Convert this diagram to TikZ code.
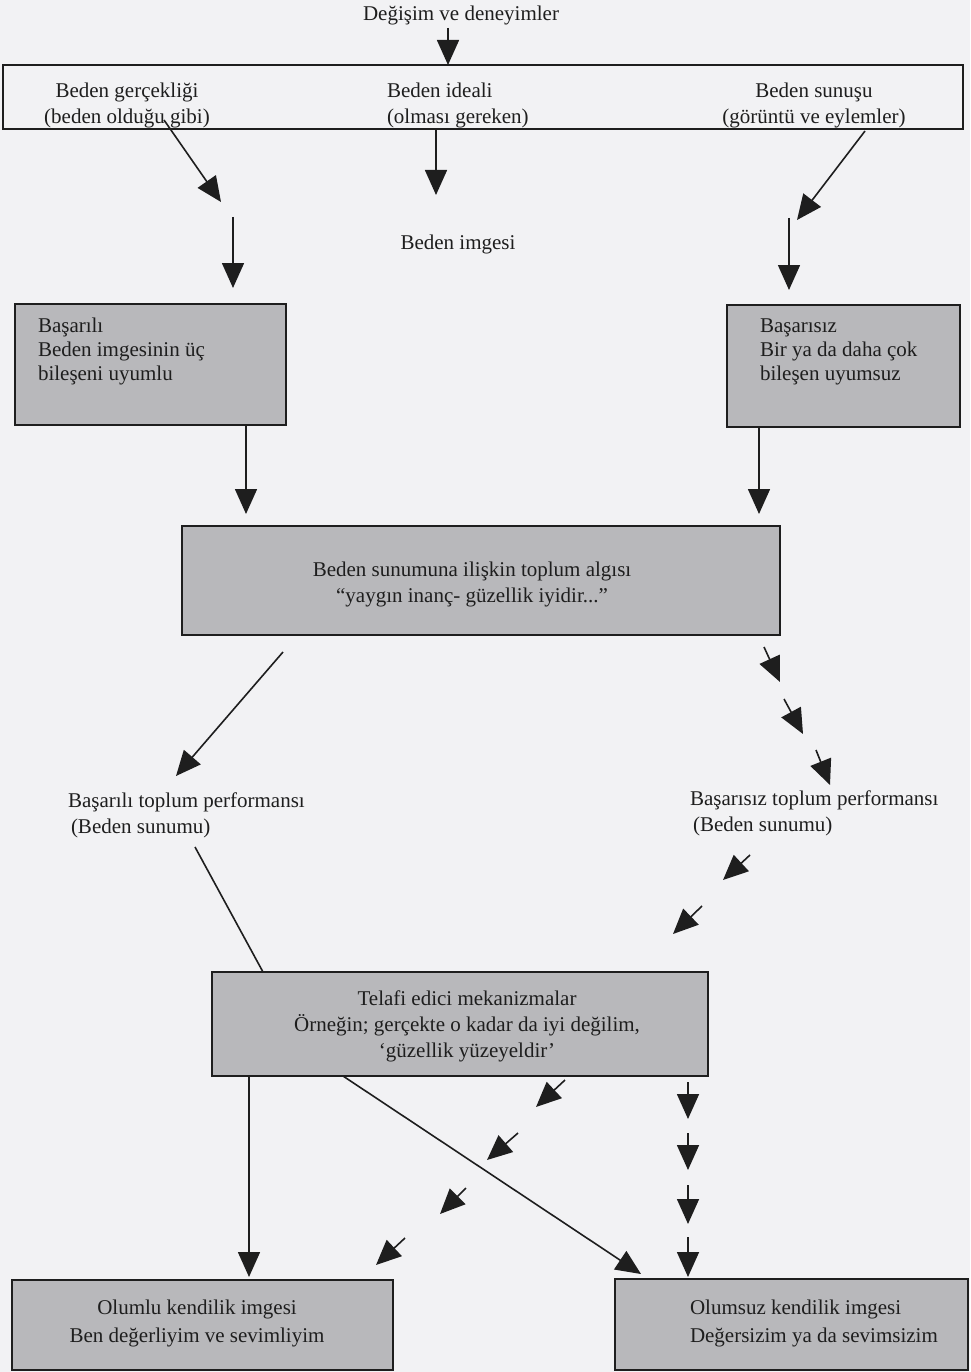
\documentclass[tikz,border=0pt]{standalone}
\usepackage{fontspec}
\setmainfont{Liberation Serif}
\usetikzlibrary{arrows.meta}
\definecolor{pagebg}{RGB}{242,242,244}
\definecolor{boxfill}{RGB}{184,184,187}
\definecolor{ink}{RGB}{30,30,30}
\begin{document}
\begin{tikzpicture}[x=1pt,y=-1pt,
  every node/.style={font=\fontsize{21}{26}\selectfont, text=ink, inner sep=0pt, outer sep=0pt},
  box/.style={draw=ink, line width=2.8pt, fill=boxfill, anchor=north west},
  arr/.style={draw=ink, line width=1.6pt, -{Triangle[length=25pt,width=22pt]}},
  plain/.style={draw=ink, line width=1.6pt},
  tight/.style={font=\fontsize{21}{24}\selectfont},
  loose/.style={font=\fontsize{21}{28}\selectfont}]
\fill[pagebg] (0,0) rectangle (970,1372);
\useasboundingbox (0,0) rectangle (970,1372);

% boxes
\node[box, fill=none, minimum width=960pt, minimum height=64pt] (top) at (3,65) {};
\node[box, minimum width=271pt, minimum height=121pt] (L1) at (15,304) {};
\node[box, minimum width=233pt, minimum height=122pt] (R1) at (727,305) {};
\node[box, minimum width=598pt, minimum height=109pt] (M) at (182,526) {};
\node[box, minimum width=496pt, minimum height=104pt] (T) at (212,972) {};
\node[box, minimum width=381pt, minimum height=90pt] (BL) at (12,1280) {};
\node[box, minimum width=353pt, minimum height=91pt] (BR) at (615,1279) {};

% texts
\node (t0) at (461,15) {Değişim ve deneyimler};
\node[align=center] (tg) at (127,105) {Beden gerçekliği\\(beden olduğu gibi)};
\node[align=left, anchor=west] (ti) at (387,105) {Beden ideali\\(olması gereken)};
\node[align=center] (ts) at (814,105) {Beden sunuşu\\(görüntü ve eylemler)};
\node (tim) at (458,244) {Beden imgesi};
\node[tight, align=left, anchor=west] (tl1) at (38,351) {Başarılı\\Beden imgesinin üç\\bileşeni uyumlu};
\node[tight, align=left, anchor=west] (tr1) at (760,352) {Başarısız\\Bir ya da daha çok\\bileşen uyumsuz};
\node[align=center] (tm) at (472,584) {Beden sunumuna ilişkin toplum algısı\\“yaygın inanç- güzellik iyidir...”};
\node[align=left, anchor=west] (tbl) at (68,815) {Başarılı toplum performansı\\\hspace*{3pt}(Beden sunumu)};
\node[align=left, anchor=west] (tbr) at (690,813) {Başarısız toplum performansı\\\hspace*{3pt}(Beden sunumu)};
\node[align=center] (tt) at (467,1026) {Telafi edici mekanizmalar\\Örneğin; gerçekte o kadar da iyi değilim,\\‘güzellik yüzeyeldir’};
\node[loose, align=center] (tbl2) at (197,1323) {Olumlu kendilik imgesi\\Ben değerliyim ve sevimliyim};
\node[loose, align=left, anchor=west] (tbr2) at (690,1323) {Olumsuz kendilik imgesi\\Değersizim ya da sevimsizim};

% coordinates for free ends
\coordinate (p1) at (448,28);
\coordinate (p2s) at (164,120); \coordinate (p2e) at (221,202);
\coordinate (p3) at (436,195);
\coordinate (p4s) at (865,131); \coordinate (p4e) at (797,220);
\coordinate (p5s) at (233,217); \coordinate (p5e) at (233,288);
\coordinate (p6s) at (789,218); \coordinate (p6e) at (789,290);
\coordinate (p7) at (246,514);
\coordinate (p8) at (759,514);
\coordinate (p9s) at (283,652); \coordinate (p9e) at (176,776);
\coordinate (a1s) at (764,647); \coordinate (a1e) at (780,682);
\coordinate (a2s) at (784,699); \coordinate (a2e) at (803,734);
\coordinate (a3s) at (816,750); \coordinate (a3e) at (830,785);
\coordinate (b1s) at (750,855); \coordinate (b1e) at (723,880);
\coordinate (b2s) at (702,906); \coordinate (b2e) at (673,934);
\coordinate (c1s) at (688,1082); \coordinate (c1e) at (688,1119);
\coordinate (c2s) at (688,1133); \coordinate (c2e) at (688,1170);
\coordinate (c3s) at (688,1185); \coordinate (c3e) at (688,1224);
\coordinate (c4s) at (688,1237); \coordinate (c4e) at (688,1277);
\coordinate (d1s) at (565,1080); \coordinate (d1e) at (536,1107);
\coordinate (d2s) at (518,1133); \coordinate (d2e) at (487,1160);
\coordinate (d3s) at (466,1188); \coordinate (d3e) at (440,1214);
\coordinate (d4s) at (405,1238); \coordinate (d4e) at (376,1265);
\coordinate (q1s) at (195,847); \coordinate (q1x) at (263,0);
\coordinate (q2e) at (641,1274);
\coordinate (q2x) at (343,0);
\coordinate (q3x) at (249,0);
\coordinate (q3e) at (249,1277);
\coordinate (p7x) at (246,0);
\coordinate (p8x) at (759,0);

% connectors
\draw[arr] (p1) -- (top.north -| p1);
\draw[arr] (p2s) -- (p2e);
\draw[arr] (top.south -| p3) -- (p3);
\draw[arr] (p4s) -- (p4e);
\draw[arr] (p5s) -- (p5e);
\draw[arr] (p6s) -- (p6e);
\draw[arr] (L1.south -| p7x) -- (p7);
\draw[arr] (R1.south -| p8x) -- (p8);
\draw[arr] (p9s) -- (p9e);
\draw[arr] (a1s) -- (a1e);
\draw[arr] (a2s) -- (a2e);
\draw[arr] (a3s) -- (a3e);
\draw[arr] (b1s) -- (b1e);
\draw[arr] (b2s) -- (b2e);
\draw[arr] (c1s) -- (c1e);
\draw[arr] (c2s) -- (c2e);
\draw[arr] (c3s) -- (c3e);
\draw[arr] (c4s) -- (c4e);
\draw[arr] (d1s) -- (d1e);
\draw[arr] (d2s) -- (d2e);
\draw[arr] (d3s) -- (d3e);
\draw[arr] (d4s) -- (d4e);
\draw[plain] (q1s) -- (T.north -| q1x);
\draw[arr] (T.south -| q2x) -- (q2e);
\draw[arr] (T.south -| q3x) -- (q3e);
\end{tikzpicture}
\end{document}
